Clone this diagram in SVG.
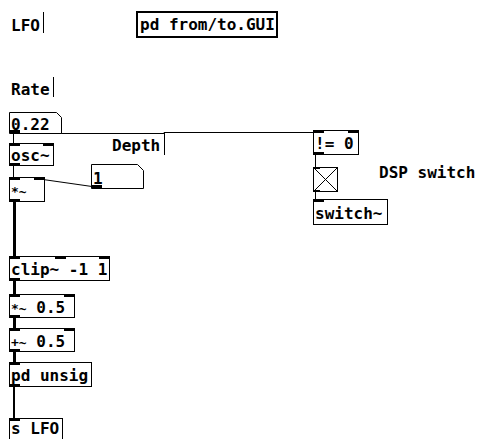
<svg xmlns="http://www.w3.org/2000/svg" width="478" height="439" viewBox="0 0 478 439">
<style>
text{font-family:"DejaVu Sans Mono","Liberation Mono",monospace;font-weight:bold;font-size:16px;fill:#000}
.box{fill:#fff;stroke:#000;stroke-width:1}
.io{fill:#000}
.c{stroke:#000;stroke-width:1;fill:none}
.s{stroke:#000;stroke-width:3;fill:none}
.bar{stroke:#000;stroke-width:1}
</style>
<rect width="478" height="439" fill="#fff"/>
<g id="connectors">
  <path class="c" d="M13.5,133 V143"/>
  <path class="c" d="M13,133.5 H164 V132.5 H315"/>
  <path class="c" d="M13.5,165 V177"/>
  <path class="c" d="M43,179.5 L92,186.5"/>
  <path class="s" d="M14.5,201 V256"/>
  <path class="s" d="M14.5,281 V294"/>
  <path class="s" d="M14.5,317 V328"/>
  <path class="s" d="M14.5,352 V362"/>
  <path class="c" style="stroke-width:2" d="M14,386 V418"/>
  <path class="c" d="M315.5,155 V167"/>
  <path class="c" d="M315.5,191 V199"/>
</g>
<g id="lfo-label">
  <text x="11" y="31">LFO</text>
  <line class="bar" x1="43.5" y1="12" x2="43.5" y2="33"/>
</g>
<g id="pd-gui">
  <rect x="137" y="12" width="140" height="25" fill="#fff" stroke="#000" stroke-width="2"/>
  <text x="140" y="30">pd from/to.GUI</text>
</g>
<g id="rate-label">
  <text x="11" y="95">Rate</text>
  <line class="bar" x1="53.5" y1="77" x2="53.5" y2="97"/>
</g>
<g id="num-rate">
  <path class="box" d="M9.5,112.5 H56.5 L61.5,117.5 V133.5 H9.5 Z"/>
  <rect class="io" x="9" y="130" width="11" height="3"/>
  <text x="11" y="130">0.22</text>
</g>
<g id="depth-label">
  <text x="112" y="151">Depth</text>
  <line class="bar" x1="164.5" y1="133" x2="164.5" y2="155"/>
</g>
<g id="osc">
  <rect class="box" x="9.5" y="143.5" width="44" height="22"/>
  <rect class="io" x="9" y="143" width="11" height="3"/>
  <rect class="io" x="43" y="143" width="11" height="3"/>
  <rect class="io" x="9" y="163" width="11" height="3"/>
  <text x="11" y="161">osc~</text>
</g>
<g id="num-depth">
  <path class="box" d="M91.5,164.5 H137.5 L143.5,170.5 V188.5 H91.5 Z"/>
  <rect class="io" x="91" y="185" width="11" height="3"/>
  <text x="93" y="184">1</text>
</g>
<g id="mul">
  <rect class="box" x="9.5" y="177.5" width="35" height="24"/>
  <rect class="io" x="9" y="177" width="11" height="3"/>
  <rect class="io" x="34" y="177" width="11" height="3"/>
  <rect class="io" x="9" y="199" width="11" height="3"/>
  <text x="11" y="196" style="font-size:13px">*~</text>
</g>
<g id="clip">
  <rect class="box" x="9.5" y="256.5" width="100" height="24"/>
  <rect class="io" x="9" y="256" width="11" height="3"/>
  <rect class="io" x="55" y="256" width="11" height="3"/>
  <rect class="io" x="99" y="256" width="11" height="3"/>
  <rect class="io" x="9" y="278" width="11" height="3"/>
  <text x="11" y="275">clip~ -1 1</text>
</g>
<g id="mul-half">
  <rect class="box" x="9.5" y="294.5" width="65" height="23"/>
  <rect class="io" x="9" y="294" width="11" height="3"/>
  <rect class="io" x="64" y="294" width="11" height="3"/>
  <rect class="io" x="9" y="315" width="11" height="3"/>
  <text x="11" y="313"><tspan style="font-size:13px">*~</tspan> 0.5</text>
</g>
<g id="add-half">
  <rect class="box" x="9.5" y="328.5" width="65" height="23"/>
  <rect class="io" x="9" y="328" width="11" height="3"/>
  <rect class="io" x="64" y="328" width="11" height="3"/>
  <rect class="io" x="9" y="349" width="11" height="3"/>
  <text x="11" y="347"><tspan style="font-size:13px">+~</tspan> 0.5</text>
</g>
<g id="unsig">
  <rect class="box" x="9.5" y="362.5" width="82" height="24"/>
  <rect class="io" x="9" y="362" width="11" height="3"/>
  <rect class="io" x="9" y="384" width="11" height="3"/>
  <text x="11" y="381">pd unsig</text>
</g>
<g id="send-lfo">
  <rect class="box" x="9.5" y="418.5" width="53" height="24"/>
  <rect class="io" x="9" y="418" width="11" height="3"/>
  <text x="11" y="434">s LFO</text>
</g>
<g id="neq">
  <rect class="box" x="313.5" y="130.5" width="45" height="24"/>
  <rect class="io" x="313" y="130" width="11" height="3"/>
  <rect class="io" x="348" y="130" width="11" height="3"/>
  <rect class="io" x="313" y="152" width="11" height="3"/>
  <text x="315" y="149">!= 0</text>
</g>
<g id="toggle">
  <rect class="box" x="313.5" y="167.5" width="24" height="24"/>
  <line class="c" x1="314" y1="168" x2="337" y2="191"/>
  <line class="c" x1="337" y1="168" x2="314" y2="191"/>
  <rect class="io" x="313" y="167" width="7" height="2"/>
  <rect class="io" x="313" y="190" width="7" height="2"/>
</g>
<g id="dsp-label">
  <text x="379" y="178">DSP switch</text>
</g>
<g id="switch">
  <rect class="box" x="313.5" y="199.5" width="74" height="25"/>
  <rect class="io" x="313" y="199" width="11" height="3"/>
  <text x="315" y="219">switch~</text>
</g>
</svg>
